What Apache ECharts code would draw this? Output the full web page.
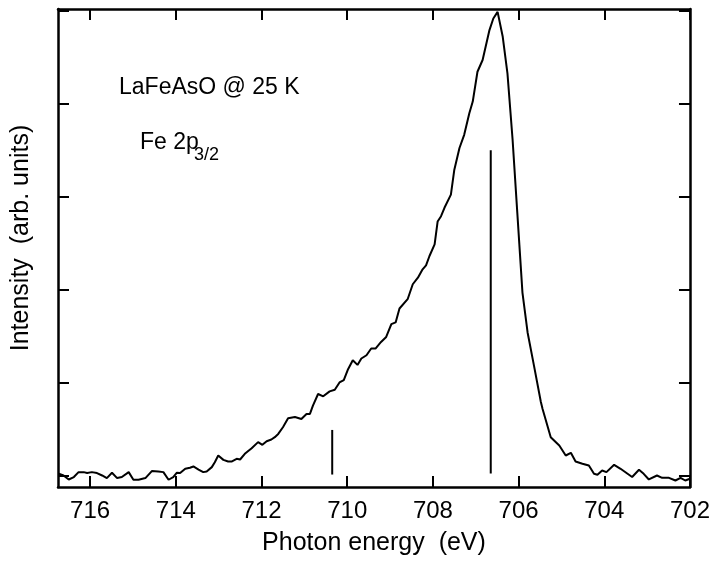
<!DOCTYPE html>
<html>
<head>
<meta charset="utf-8">
<script src="https://cdn.jsdelivr.net/npm/echarts@6/dist/echarts.min.js"></script>
<style>
html,body{margin:0;padding:0;background:#fff;}
#chart{width:713px;height:561px;}
</style>
</head>
<body>
<div id="chart"></div>
<script>
// Photon energy (eV)
var energy = [716.73,716.62,716.50,716.38,716.27,716.15,716.07,715.96,715.84,715.72,
715.61,715.49,715.37,715.26,715.10,714.99,714.87,714.71,714.56,714.41,
714.29,714.17,714.06,713.98,713.90,713.78,713.67,713.59,713.47,713.36,
713.28,713.16,713.09,713.01,712.89,712.78,712.70,712.58,712.50,712.39,
712.23,712.08,711.98,711.88,711.77,711.69,711.61,711.50,711.38,711.22,
711.07,710.95,710.87,710.80,710.68,710.56,710.41,710.29,710.18,710.08,
709.98,709.87,709.76,709.67,709.55,709.44,709.34,709.21,709.09,708.97,
708.87,708.78,708.59,708.47,708.35,708.24,708.16,708.08,707.96,707.89,
707.81,707.73,707.58,707.50,707.38,707.27,707.15,707.07,706.96,706.84,
706.68,706.59,706.49,706.45,706.37,706.26,706.14,706.03,705.91,705.79,
705.64,705.48,705.44,705.25,705.05,704.90,704.78,704.67,704.51,704.36,
704.24,704.16,704.05,703.95,703.77,703.62,703.35,703.19,703.08,702.96,
702.77,702.65,702.49,702.34,702.22,702.11,702.00];
// Intensity (arb. units)
var intensity = [0.018,0,-0.043,-0.017,0.036,0.036,0.026,0.036,0.026,0,
-0.028,0.029,-0.028,-0.017,0.036,-0.046,-0.046,-0.028,0.047,0.043,
0.036,-0.046,-0.017,0.029,0.026,0.072,0.083,0.097,0.064,0.036,
0.043,0.09,0.143,0.215,0.168,0.150,0.150,0.179,0.172,0.233,
0.294,0.359,0.330,0.369,0.387,0.412,0.447,0.519,0.615,0.629,
0.608,0.662,0.662,0.751,0.877,0.852,0.905,0.922,1.001,1.026,
1.144,1.240,1.190,1.259,1.294,1.366,1.366,1.437,1.491,1.629,
1.647,1.797,1.897,2.058,2.129,2.219,2.262,2.362,2.488,2.733,
2.790,2.881,3.023,3.291,3.524,3.666,3.899,4.024,4.345,4.471,
4.793,4.918,4.989,4.972,4.721,4.328,3.613,2.826,1.968,1.539,
1.180,0.791,0.716,0.412,0.322,0.215,0.244,0.150,0.126,0.107,
0.018,0.008,0.054,0.036,0.115,0.072,-0.017,0.061,0.018,-0.043,
0,-0.025,-0.025,-0.054,-0.025,-0.054,-0.035];
// Stick markers
var stickEnergy = [710.35, 706.65];
var stickBottom = [0.01, 0.02];
var stickTop = [0.49, 3.50];
// Tick values
var xTicks = [702,704,706,708,710,712,714,716];
var yTicks = [0,1,2,3,4,5];

var FONT = '"Liberation Sans", Arial, sans-serif';
var chart = echarts.init(document.getElementById('chart'));

var lineData = energy.map(function(e,i){ return [e, intensity[i]]; });
var series = [{
  type:'line', data: lineData, showSymbol:false, symbol:'none',
  lineStyle:{color:'#000', width:2}, xAxisIndex:0, yAxisIndex:0, z:3
}];
stickEnergy.forEach(function(e,i){
  series.push({
    type:'line', data:[[e, stickBottom[i]],[e, stickTop[i]]], showSymbol:false, symbol:'none',
    lineStyle:{color:'#000', width:2}, xAxisIndex:0, yAxisIndex:0, z:3
  });
});

var xCommon = {
  type:'value', min:702, max:716.75, inverse:true,
  splitLine:{show:false},
  axisLine:{show:true, onZero:false, lineStyle:{color:'#000', width:2.5}},
  axisTick:{show:true, inside:true, length:11, lineStyle:{color:'#000', width:2}, customValues:xTicks}
};
var yCommon = {
  type:'value', min:-0.124, max:5.02,
  splitLine:{show:false},
  axisLine:{show:true, onZero:false, lineStyle:{color:'#000', width:2.5}},
  axisTick:{show:true, inside:true, length:11, lineStyle:{color:'#000', width:2}, customValues:yTicks}
};

chart.setOption({
  animation:false,
  backgroundColor:'#fff',
  grid:{left:58, right:21, top:9, bottom:73, containLabel:false},
  xAxis:[
    Object.assign({}, xCommon, {
      position:'bottom',
      axisLabel:{show:true, color:'#000', fontSize:24, fontFamily:FONT, margin:12, customValues:xTicks},
      name:'Photon energy  (eV)', nameLocation:'middle', nameGap:44,
      nameTextStyle:{color:'#000', fontSize:25, fontFamily:FONT}
    }),
    Object.assign({}, xCommon, {position:'top', axisLabel:{show:false}})
  ],
  yAxis:[
    Object.assign({}, yCommon, {
      position:'left',
      axisLabel:{show:false},
      name:'Intensity  (arb. units)', nameLocation:'middle', nameGap:24, nameRotate:90,
      nameTextStyle:{color:'#000', fontSize:25, fontFamily:FONT, padding:[0,0,0,20]}
    }),
    Object.assign({}, yCommon, {position:'right', axisLabel:{show:false}})
  ],
  graphic:[
    {type:'text', x:119, y:88, style:{text:'LaFeAsO @ 25 K', fill:'#000', font:'23px ' + FONT, verticalAlign:'middle', align:'left'}},
    {type:'text', x:140, y:143, style:{text:'Fe 2p', fill:'#000', font:'23px ' + FONT, verticalAlign:'middle', align:'left'}},
    {type:'text', x:194, y:155, style:{text:'3/2', fill:'#000', font:'18px ' + FONT, verticalAlign:'middle', align:'left'}}
  ],
  series: series
});
</script>
</body>
</html>
